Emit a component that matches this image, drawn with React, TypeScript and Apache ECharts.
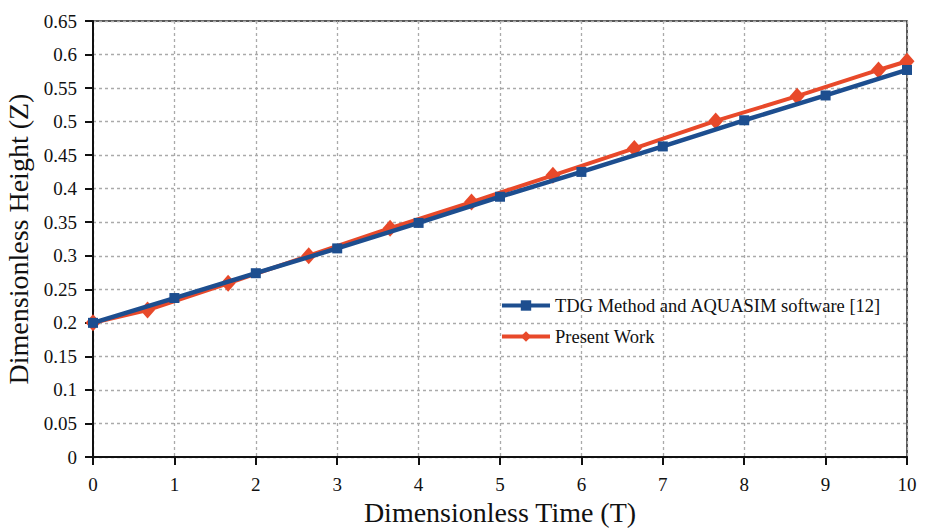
import React, { useEffect, useRef } from "react";
import * as echarts from "echarts";

const tdgT = [0, 1, 2, 3, 4, 5, 6, 7, 8, 9, 10];
const tdgZ = [0.2, 0.237, 0.274, 0.311, 0.349, 0.388, 0.425, 0.463, 0.502, 0.539, 0.577];
const presentT = [0, 0.67, 1.66, 2.65, 3.65, 4.65, 5.65, 6.65, 7.65, 8.65, 9.65, 10];
const presentZ = [0.2, 0.219, 0.259, 0.3, 0.341, 0.38, 0.42, 0.46, 0.501, 0.538, 0.577, 0.59];

const tdgName = "TDG Method and AQUASIM software [12]";
const presentName = "Present Work";

export default function App() {
  const ref = useRef<HTMLDivElement>(null);
  useEffect(() => {
    if (!ref.current) return;
    const chart = echarts.init(ref.current, undefined, { renderer: "svg" });
    const font = "Liberation Serif";
    chart.setOption({
      animation: false,
      textStyle: { fontFamily: font },
      grid: {
        left: 93,
        right: 27,
        top: 21,
        bottom: 73,
        outerBoundsMode: "none",
        containLabel: false,
        show: true,
        borderColor: "#222",
        borderWidth: 1.5,
        backgroundColor: "transparent",
      },
      legend: {
        orient: "vertical",
        left: 495,
        top: 291,
        itemWidth: 48,
        itemHeight: 13,
        itemGap: 12,
        data: [tdgName, presentName],
        lineStyle: { width: 4 },
        textStyle: { fontFamily: font, fontSize: 18.5, color: "#111" },
      },
      xAxis: {
        type: "value",
        min: 0,
        max: 10,
        interval: 1,
        name: "Dimensionless Time (T)",
        nameLocation: "middle",
        nameGap: 41,
        nameTextStyle: { fontFamily: font, fontSize: 28, color: "#111" },
        axisLine: { lineStyle: { color: "#111", width: 2 } },
        axisTick: { inside: false, length: 8, lineStyle: { color: "#111", width: 2 } },
        axisLabel: { fontFamily: font, fontSize: 19, color: "#111", margin: 18 },
        splitLine: { show: true, lineStyle: { color: "#aaa", type: [3, 3], width: 1.3 } },
      },
      yAxis: {
        type: "value",
        min: 0,
        max: 0.65,
        interval: 0.05,
        name: "Dimensionless Height (Z)",
        nameLocation: "middle",
        nameGap: 58,
        nameTextStyle: { fontFamily: font, fontSize: 28, color: "#111" },
        axisLine: { show: true, lineStyle: { color: "#111", width: 2 } },
        axisTick: { show: true, inside: false, length: 8, lineStyle: { color: "#111", width: 2 } },
        axisLabel: { fontFamily: font, fontSize: 19, color: "#111", margin: 16 },
        splitLine: { show: true, lineStyle: { color: "#aaa", type: [3, 3], width: 1.3 } },
      },
      series: [
        {
          name: presentName,
          type: "line",
          z: 2,
          data: presentT.map((t, i) => [t, presentZ[i]]),
          lineStyle: { color: "#E8492A", width: 4 },
          itemStyle: { color: "#E8492A" },
          symbol: "diamond",
          symbolSize: [15, 17],
          showAllSymbol: true,
        },
        {
          name: tdgName,
          type: "line",
          z: 3,
          data: tdgT.map((t, i) => [t, tdgZ[i]]),
          lineStyle: { color: "#1D4E8F", width: 4.5 },
          itemStyle: { color: "#1D4E8F" },
          symbol: "rect",
          symbolSize: 10,
          showAllSymbol: true,
        },
      ],
    });
    return () => chart.dispose();
  }, []);
  return <div ref={ref} style={{ width: 934, height: 530, position: "absolute", left: 0, top: 0 }} />;
}
